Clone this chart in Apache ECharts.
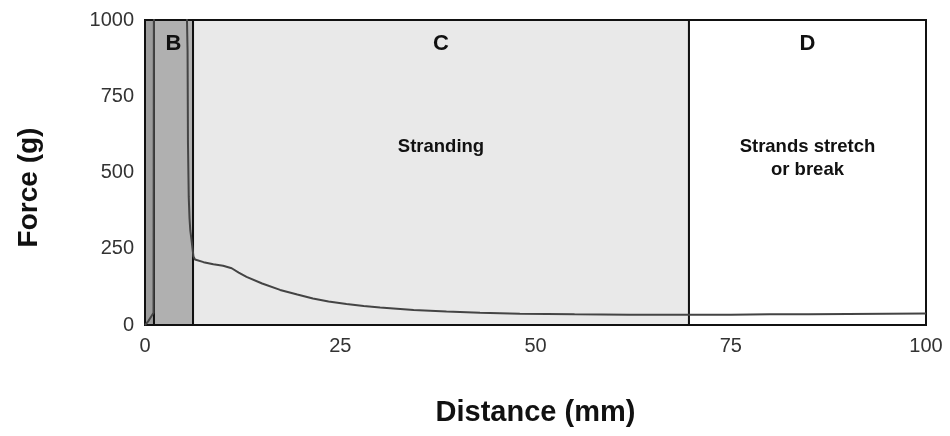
<!DOCTYPE html>
<html>
<head>
<meta charset="utf-8">
<script src="https://cdn.jsdelivr.net/npm/echarts@6/dist/echarts.min.js"></script>
<style>html,body{margin:0;padding:0;background:#fff;}#c{width:950px;height:436px;}</style>
</head>
<body>
<div id="c"></div>
<script>
// Region boundaries (mm) and labels
var regionBounds = [0, 1.15, 6.15, 69.65, 100];
var regionLetters = ['', 'B', 'C', 'D'];
var regionNotes = ['', '', 'Stranding', 'Strands stretch\nor break'];
var regionNotePos = ['41.6%', '41.6%', '41.6%', '45.5%'];
var regionColors = ['#9c9c9c', '#b0b0b0', '#e9e9e9', '#ffffff'];

// Force curve
var distance = [0, 0.4, 0.8, 1.1, 1.15, 5.3, 5.42, 5.45, 5.5, 5.6, 5.7, 5.8, 5.95, 6.1, 6.2, 6.4, 7.5, 8.75, 10, 11.1, 12, 13, 15, 17.3, 19.5, 21.5, 23.5, 25.8, 28, 30.1, 34.4, 38.6, 42.9, 48, 55, 62, 69.6, 75, 80, 85, 90, 95, 100];
var force    = [0, 12, 28, 40, 1100, 1100, 1100, 900, 600, 420, 350, 310, 280, 275, 225, 215, 206, 199, 194, 186, 172, 158, 136, 115, 100, 87, 77, 69, 62, 57, 49, 44, 40, 37, 35, 34, 34, 34, 35, 35, 36, 37, 38];

var xTicks = [0, 25, 50, 75, 100];
var yTicks = [0, 250, 500, 750, 1000];

var curve = distance.map(function (d, i) { return [d, force[i]]; });

var areaData = [];
var noteData = [];
for (var i = 0; i < regionBounds.length - 1; i++) {
  areaData.push([
    { xAxis: regionBounds[i], yAxis: 0, itemStyle: { color: regionColors[i] },
      label: { show: !!regionLetters[i], formatter: regionLetters[i] } },
    { xAxis: regionBounds[i + 1], yAxis: 1000 }
  ]);
  noteData.push([
    { xAxis: regionBounds[i], yAxis: 0,
      label: { show: !!regionNotes[i], formatter: regionNotes[i], position: ['50%', regionNotePos[i]] } },
    { xAxis: regionBounds[i + 1], yAxis: 1000 }
  ]);
}

var FONT = 'Liberation Sans, Arial, sans-serif';
var chart = echarts.init(document.getElementById('c'));
chart.setOption({
  animation: false,
  backgroundColor: '#ffffff',
  grid: { left: 145, right: 24, top: 20, bottom: 111, show: true, borderColor: '#111', borderWidth: 2, backgroundColor: 'transparent' },
  xAxis: {
    type: 'value', min: xTicks[0], max: xTicks[xTicks.length - 1], interval: 25,
    name: 'Distance (mm)', nameLocation: 'middle', nameGap: 73,
    nameTextStyle: { fontFamily: FONT, fontSize: 29, fontWeight: 'bold', color: '#111' },
    axisLine: { show: true, lineStyle: { color: '#111', width: 2 } },
    axisTick: { show: false },
    splitLine: { show: false },
    axisLabel: { fontFamily: FONT, fontSize: 20, color: '#333', margin: 11 }
  },
  yAxis: {
    type: 'value', min: yTicks[0], max: yTicks[yTicks.length - 1], interval: 250,
    name: 'Force (g)', nameLocation: 'middle', nameGap: 102, nameRotate: 90,
    nameTextStyle: { fontFamily: FONT, fontSize: 28, fontWeight: 'bold', color: '#111', padding: [0, 30, 0, 0] },
    axisLine: { show: true, lineStyle: { color: '#111', width: 2 } },
    axisTick: { show: false },
    splitLine: { show: false },
    axisLabel: { fontFamily: FONT, fontSize: 20, color: '#333', margin: 11, formatter: function (v) { return String(v); } }
  },
  series: [
    {
      type: 'line',
      data: [],
      silent: true,
      markArea: {
        silent: true,
        itemStyle: { borderColor: '#111', borderWidth: 2 },
        label: { position: 'insideTop', distance: 14, fontFamily: FONT, fontSize: 22, fontWeight: 'bold', color: '#111' },
        data: areaData
      }
    },
    {
      type: 'line',
      data: [],
      silent: true,
      markArea: {
        silent: true,
        itemStyle: { color: 'transparent', borderWidth: 0 },
        label: { align: 'center', verticalAlign: 'middle', fontFamily: FONT, fontSize: 18.5, fontWeight: 'bold', color: '#111', lineHeight: 23 },
        data: noteData
      }
    },
    {
      type: 'line',
      data: curve,
      showSymbol: false,
      clip: true,
      z: 5,
      lineStyle: { color: '#444', width: 2 }
    }
  ]
});
</script>
</body>
</html>
